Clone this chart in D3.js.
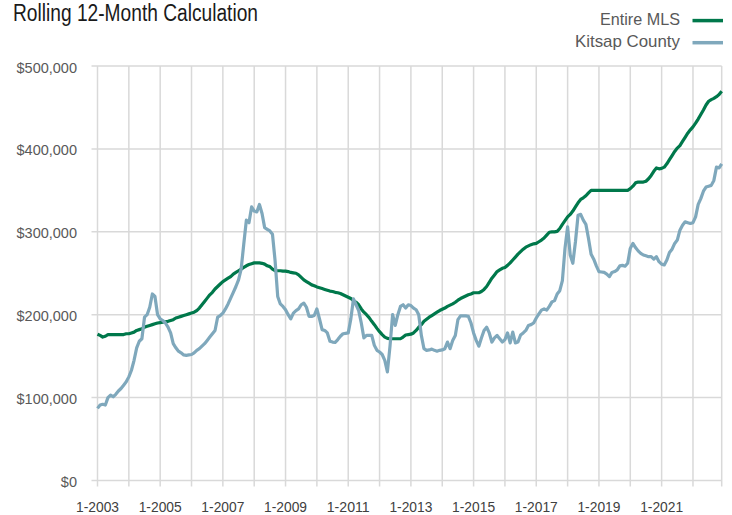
<!DOCTYPE html>
<html>
<head>
<meta charset="utf-8">
<script src="https://cdn.jsdelivr.net/npm/d3@7/dist/d3.min.js"></script>
<style>
  html, body { margin: 0; padding: 0; background: #fff; }
  svg { display: block; }
  text { font-family: "Liberation Sans Narrow", "Arial Narrow", "Liberation Sans", sans-serif; }
</style>
</head>
<body>
<svg id="chart" width="732" height="515"></svg>
<script>
// ---------- DATA (values in thousands of dollars, monthly Jan-2003 .. Dec-2022) ----------
const startYear = 2003;
const endYear = 2022;

const entireMLS = [
  176.5, 175, 173, 174, 176, 176, 176, 176, 176, 176, 176, 177,           // 2003
  177, 178, 179, 181, 182, 183, 185, 186, 187, 188, 189, 190,             // 2004
  190.5, 191, 191.5, 192, 193, 194, 196, 197, 198, 199, 200, 201,         // 2005
  202, 203, 205, 208, 212, 216, 220, 224, 227, 231, 234, 237,             // 2006
  240, 242, 244, 246, 249, 251, 253, 255, 257, 259, 260.5, 261.5,         // 2007
  262.5, 262.5, 262.5, 262, 261, 259, 258, 255, 253, 253, 253, 252.5,     // 2008
  252.5, 252, 251, 250.5, 250, 248, 245, 242, 240, 238, 236, 235,         // 2009
  233.5, 232.5, 231.5, 230.5, 229.5, 228.5, 228, 227, 226.5, 225.5, 224, 222.5, // 2010
  221, 219.5, 217, 215, 212, 207, 203, 200, 196.5, 192, 188, 183.5,       // 2011
  179.5, 176, 173, 171.5, 171, 171, 171, 171, 171, 173, 175.5, 176,       // 2012
  176.5, 178, 181, 185, 188, 192, 194.5, 197, 199, 201, 203, 205,         // 2013
  206.5, 208, 210, 211.5, 213, 215, 217.5, 219.5, 221, 222.5, 224, 225,   // 2014
  226.5, 226.5, 226.5, 228, 230.5, 234, 239, 244, 248, 252, 254, 256,     // 2015
  257, 259.5, 262.5, 266, 269.5, 273, 276, 279, 281.5, 283, 284.5, 285.5, // 2016
  286, 288, 290, 292.5, 296, 299.5, 300, 300, 300.5, 304, 309, 313.5,     // 2017
  318, 321, 325, 330, 335, 339, 341, 343.5, 347, 350, 350, 350,           // 2018
  350, 350, 350, 350, 350, 350, 350, 350, 350, 350, 350, 350,             // 2019
  352, 355, 359, 360, 360, 360, 361, 364, 368, 373, 377, 376,             // 2020
  376.5, 378, 382, 387, 392, 397, 401, 404, 409, 414, 419, 423,           // 2021
  426.5, 431, 436, 441.5, 447, 453, 457.5, 459.5, 461, 463, 465.5, 469.5  // 2022
];

const kitsapCounty = [
  87, 91, 92, 91, 100, 103, 101, 104, 108, 111, 115, 119,                 // 2003
  125, 133, 145, 160, 168, 171, 197, 200, 209, 225, 222, 200,             // 2004
  195, 193, 190, 185, 178, 165, 160, 156, 154, 151.5, 151, 151.5,         // 2005
  152, 154, 157, 159, 162, 165, 169, 173, 177, 181, 197, 199,             // 2006
  202, 207, 213, 220, 227, 234, 242, 255, 285, 314, 311, 330,             // 2007
  325, 324, 333, 322, 305, 303, 301, 297, 265, 222, 213, 210,             // 2008
  206, 200, 195, 202, 205, 207, 212, 214, 209, 198, 198, 199,             // 2009
  207, 195, 182, 181, 178, 168, 167, 166.5, 170, 174, 177, 177.5,         // 2010
  178, 195, 219, 212, 205, 190, 172, 175, 175, 175, 163, 157,             // 2011
  155, 152, 145, 131, 162, 200, 187, 200, 210, 212, 208, 212,             // 2012
  211, 208, 206, 200, 175, 159, 157, 157.5, 158.5, 157, 156, 157,         // 2013
  157.5, 159, 167, 159, 169, 175, 194, 198.5, 198.5, 198.5, 198, 190,     // 2014
  178, 169, 162, 172, 181, 185, 178, 167, 172, 175, 171, 167,             // 2015
  170, 178, 166, 179, 166, 167, 175.5, 178, 181, 187, 188, 190,           // 2016
  196, 201, 205.5, 207, 205.5, 210, 215.5, 217, 225, 229, 241, 280,       // 2017
  306, 272, 262, 288, 320, 321, 314, 309, 292, 273, 267, 259,             // 2018
  252, 251.5, 251, 249, 246, 251, 252, 254, 259, 259.5, 258.5, 262,       // 2019
  280, 286, 281, 277, 274, 272, 271, 270, 270, 267, 270, 264,             // 2020
  261, 260, 266, 275, 279, 286, 290, 302, 308, 312, 311, 310,             // 2021
  311, 318, 333, 340, 349, 354, 355, 356, 362, 378, 377, 382              // 2022
];

const xTickLabels = ["1-2003", "1-2005", "1-2007", "1-2009", "1-2011", "1-2013", "1-2015", "1-2017", "1-2019", "1-2021"];
const yTicks = [0, 100, 200, 300, 400, 500];
const seriesNames = ["Entire MLS", "Kitsap County"];
const seriesColors = ["#00784b", "#7fa8bc"];

// ---------- BUILD ----------
const months = [];
for (let yr = startYear; yr <= endYear; yr++) for (let m = 1; m <= 12; m++) months.push(m + "-" + yr);

const svg = d3.select("#chart");
const plotLeft = 97.5, plotRight = 721.7, plotTop = 66, plotBottom = 480.5;

const x = d3.scaleLinear().domain([0, months.length - 1]).range([plotLeft, plotRight]);
const y = d3.scaleLinear().domain([0, 500]).range([plotBottom, plotTop]);

const grid = svg.append("g");
grid.selectAll("line.h").data(yTicks).join("line")
  .attr("class", "h")
  .attr("x1", plotLeft - 6).attr("x2", plotRight)
  .attr("y1", d => y(d)).attr("y2", d => y(d))
  .attr("stroke", "#d9d9d9").attr("stroke-width", 1.5);
const vIdx = d3.range(0, months.length, 12).concat([months.length - 1]);
grid.selectAll("line.v").data(vIdx).join("line")
  .attr("class", "v")
  .attr("x1", d => x(d)).attr("x2", d => x(d))
  .attr("y1", plotTop).attr("y2", plotBottom + 6)
  .attr("stroke", "#d9d9d9").attr("stroke-width", 1.5);

const fmt = d3.format(",");
svg.append("g").selectAll("text").data(yTicks).join("text")
  .attr("x", 77).attr("y", d => y(d) + 6.5)
  .attr("text-anchor", "end").attr("font-size", 14.5).attr("fill", "#595959")
  .text(d => "$" + fmt(d * 1000));

svg.append("g").selectAll("text").data(xTickLabels).join("text")
  .attr("x", d => x(months.indexOf(d))).attr("y", 511.5)
  .attr("text-anchor", "middle").attr("font-size", 15).attr("fill", "#404040")
  .attr("textLength", 43).attr("lengthAdjust", "spacingAndGlyphs")
  .text(d => d);

const line = d3.line().x((d, i) => x(i)).y(d => y(d));
[entireMLS, kitsapCounty].forEach((s, k) => {
  svg.append("path").datum(s)
    .attr("fill", "none").attr("stroke", seriesColors[k])
    .attr("stroke-width", k === 0 ? 3.2 : 3.2)
    .attr("stroke-linejoin", "round")
    .attr("d", line);
});

svg.append("text").attr("x", 13).attr("y", 20.7)
  .attr("font-size", 23).attr("fill", "#1a1a1a")
  .attr("textLength", 245).attr("lengthAdjust", "spacingAndGlyphs")
  .text("Rolling 12-Month Calculation");

const legY = [20.6, 42.7];
const legW = [80, 105];
seriesNames.forEach((n, k) => {
  svg.append("line").attr("x1", 692.5).attr("x2", 723)
    .attr("y1", legY[k]).attr("y2", legY[k])
    .attr("stroke", seriesColors[k]).attr("stroke-width", 3.5);
  svg.append("text").attr("x", 680).attr("y", legY[k] + 4.4)
    .attr("text-anchor", "end").attr("font-size", 17).attr("fill", "#595959")
    .attr("textLength", legW[k]).attr("lengthAdjust", "spacingAndGlyphs")
    .text(n);
});
</script>
</body>
</html>
